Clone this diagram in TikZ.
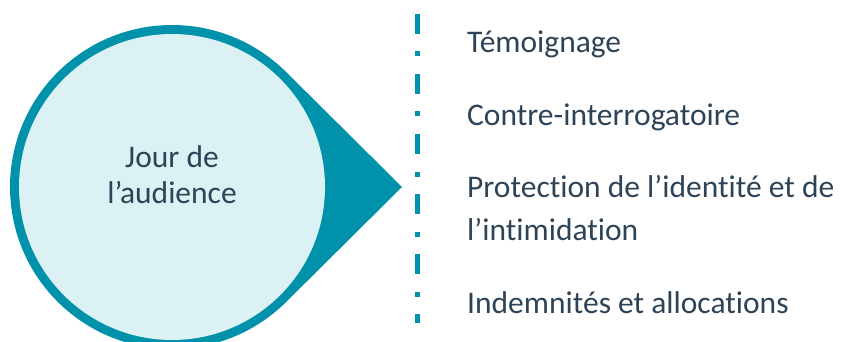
\documentclass[tikz,border=0pt]{standalone}
\usepackage{fontspec}
\setmainfont{Carlito}[Ligatures = NoCommon]
\usetikzlibrary{positioning}
\definecolor{mteal}{RGB}{0,146,171}
\definecolor{mlight}{RGB}{219,241,244}
\definecolor{mslate}{RGB}{46,67,86}
\tikzset{item/.style = {anchor = base west, text = mslate, inner sep = 0, align = left, font = \fontsize{31.5}{43}\selectfont}}
\tikzset{rule/.style = {mteal, line width = 5, dash pattern = on 20 off 17.5 on 5 off 17.5}}

\begin{document}
\begin{tikzpicture}[x = 1pt, y = -1pt]
      \useasboundingbox (0, 0) rectangle (843, 342);
      \coordinate (centre) at (172, 187);
      \coordinate (tip) at (402, 187);
      \fill [mteal] (tip) -- ([shift = {(45.2:162)}] centre) arc [start angle = 45.2, end angle = 314.8, radius = 162] -- cycle;
      \fill [mlight] (centre) circle [radius = 153];
      % base anchor sits on the last line
      \node [anchor = base, text = mslate, inner sep = 0, align = center, font = \fontsize{31.5}{36}\selectfont] (day) at (172, 203) {Jour de\\l’audience};

      \coordinate (ruletop) at (417, 14);
      \coordinate (rulebottom) at (417, 323);
      \draw [rule] (ruletop) -- (rulebottom);

      \node [item] (testimony) at (467, 53) {Témoignage};
      \node [item] (cross) at (467, 125) {Contre-interrogatoire};
      \node [item] (protection) at (467, 240) {Protection de l’identité et de\\l’intimidation};
      \node [item] (allowances) at (467, 313) {Indemnités et allocations};
    \end{tikzpicture}
\end{document}
